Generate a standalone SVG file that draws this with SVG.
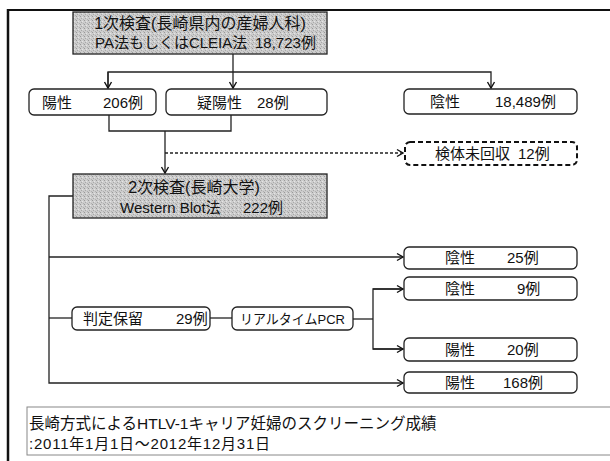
<svg xmlns="http://www.w3.org/2000/svg" width="610" height="461" viewBox="0 0 610 461">
<defs>
<pattern id="speck" width="4" height="4" patternUnits="userSpaceOnUse">
<rect width="4" height="4" fill="#cdcdcd"/>
<rect x="0" y="0" width="1" height="1" fill="#9a9a9a"/>
<rect x="2" y="1" width="1" height="1" fill="#e4e4e4"/>
<rect x="1" y="2" width="1" height="1" fill="#a8a8a8"/>
<rect x="3" y="3" width="1" height="1" fill="#b0b0b0"/>
</pattern>
<marker id="arr" markerWidth="10" markerHeight="10" refX="7" refY="5" orient="auto" markerUnits="userSpaceOnUse">
<path d="M1,1.5 L7,5 L1,8.5" fill="none" stroke="#111" stroke-width="1.4"/>
</marker>
</defs>
<style>
.t{font-family:"Liberation Sans","Noto Sans CJK JP",sans-serif;font-size:15px;fill:#111}
.box{fill:#fff;stroke:#222;stroke-width:1.3}
.gbox{fill:url(#speck);stroke:#222;stroke-width:1.3}
.dbox{fill:#fff;stroke:#111;stroke-width:2;stroke-dasharray:5 3}
.ln{fill:none;stroke:#222;stroke-width:1.3}
.dash{fill:none;stroke:#222;stroke-width:1.3;stroke-dasharray:3 2}
</style>
<rect width="610" height="461" fill="#fff"/>
<g id="frame">
<line x1="8" y1="10" x2="610" y2="10" stroke="#111" stroke-width="2"/>
<line x1="8" y1="9" x2="8" y2="461" stroke="#111" stroke-width="2.5"/>
</g>
<g id="connectors">
<path class="ln" d="M233,54 V88" marker-end="url(#arr)"/>
<path class="ln" d="M108,88 V72 H491 V88" marker-end="url(#arr)"/>
<path class="ln" d="M108,72 V88" marker-end="url(#arr)"/>
<path class="ln" d="M109,115 V131 H231 V115"/>
<path class="ln" d="M165,131 V173" marker-end="url(#arr)"/>
<path class="dash" d="M165,153 H403" marker-end="url(#arr)"/>
<path class="ln" d="M73,196 H49 V383 H403" marker-end="url(#arr)"/>
<path class="ln" d="M49,257 H403" marker-end="url(#arr)"/>
<path class="ln" d="M49,318 H72"/>
<path class="ln" d="M210,318 H232"/>
<path class="ln" d="M353,319 H373"/>
<path class="ln" d="M403,289 H373 V349 H403"/>
<path class="ln" d="M373,289 H403" marker-end="url(#arr)"/>
<path class="ln" d="M373,349 H403" marker-end="url(#arr)"/>
</g>
<g id="n_first">
<rect class="gbox" x="73" y="12" width="254" height="42"/>
<text class="t" x="200" y="29" text-anchor="middle" style="font-size:16px">1次検査(長崎県内の産婦人科)</text>
<text class="t" x="95" y="48">PA法もしくはCLEIA法</text>
<text class="t" x="255" y="48">18,723例</text>
</g>
<g id="n_pos206">
<rect class="box" x="29" y="89" width="127" height="26" rx="5"/>
<text class="t" x="42" y="108">陽性</text>
<text class="t" x="103" y="108">206例</text>
</g>
<g id="n_susp28">
<rect class="box" x="166" y="89" width="161" height="26" rx="5"/>
<text class="t" x="197" y="108">疑陽性</text>
<text class="t" x="257" y="108">28例</text>
</g>
<g id="n_neg18489">
<rect class="box" x="404" y="89" width="173" height="25" rx="5"/>
<text class="t" x="430" y="107">陰性</text>
<text class="t" x="495" y="107">18,489例</text>
</g>
<g id="n_uncollected">
<rect class="dbox" x="405" y="142" width="172" height="23" rx="5"/>
<text class="t" x="435" y="159">検体未回収</text>
<text class="t" x="518" y="159">12例</text>
</g>
<g id="n_second">
<rect class="gbox" x="73" y="174" width="254" height="44"/>
<text class="t" x="194" y="193" text-anchor="middle" style="font-size:16px">2次検査(長崎大学)</text>
<text class="t" x="120" y="213">Western Blot法</text>
<text class="t" x="243" y="213">222例</text>
</g>
<g id="n_neg25">
<rect class="box" x="404" y="247" width="173" height="22" rx="5"/>
<text class="t" x="445" y="263">陰性</text>
<text class="t" x="507" y="263">25例</text>
</g>
<g id="n_neg9">
<rect class="box" x="404" y="277" width="173" height="23" rx="5"/>
<text class="t" x="445" y="294">陰性</text>
<text class="t" x="517" y="294">9例</text>
</g>
<g id="n_hold">
<rect class="box" x="72" y="307" width="138" height="23" rx="5"/>
<text class="t" x="83" y="324">判定保留</text>
<text class="t" x="176" y="324">29例</text>
</g>
<g id="n_pcr">
<rect class="box" x="232" y="307" width="121" height="23" rx="5"/>
<text class="t" x="240" y="324" style="font-size:13.5px" textLength="105" lengthAdjust="spacingAndGlyphs">リアルタイムPCR</text>
</g>
<g id="n_pos20">
<rect class="box" x="404" y="338" width="173" height="23" rx="5"/>
<text class="t" x="445" y="355">陽性</text>
<text class="t" x="507" y="355">20例</text>
</g>
<g id="n_pos168">
<rect class="box" x="404" y="372" width="173" height="21" rx="5"/>
<text class="t" x="445" y="388">陽性</text>
<text class="t" x="503" y="388">168例</text>
</g>
<g id="caption">
<rect x="27" y="407" width="590" height="48" fill="#fff" stroke="#888" stroke-width="1"/>
<text class="t" x="29" y="429" style="font-size:15.5px">長崎方式によるHTLV-1キャリア妊婦のスクリーニング成績</text>
<text class="t" x="29" y="449" textLength="241" lengthAdjust="spacing">:2011年1月1日～2012年12月31日</text>
</g>
</svg>
